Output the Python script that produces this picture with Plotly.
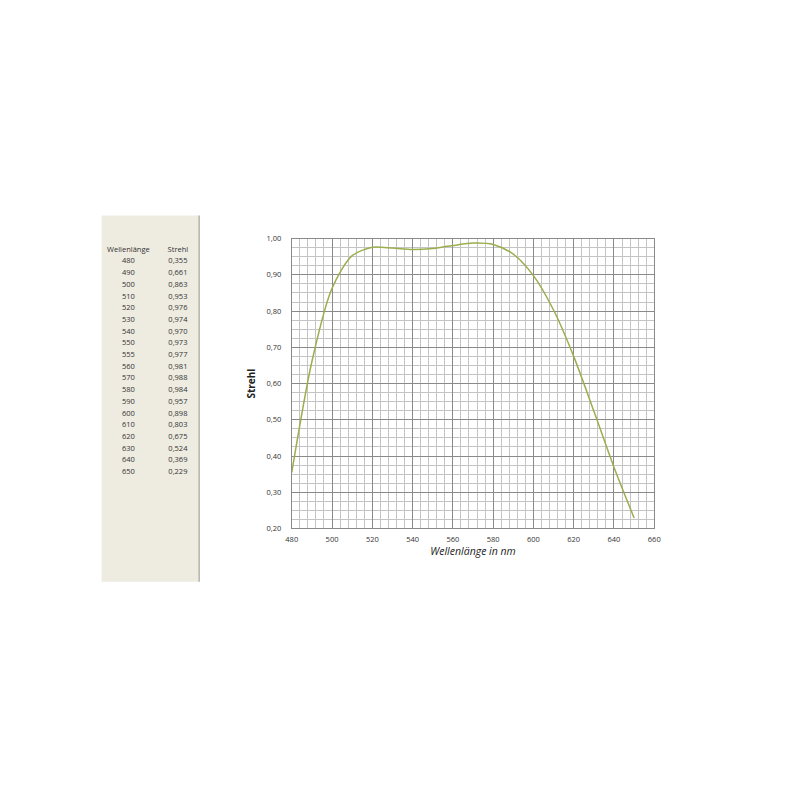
import plotly.graph_objects as go

# Strehl-Werte je Wellenlaenge
wellenlaenge = [480, 490, 500, 510, 520, 530, 540, 550, 555, 560, 570, 580, 590, 600, 610, 620, 630, 640, 650]
strehl = [0.355, 0.661, 0.863, 0.953, 0.976, 0.974, 0.970, 0.973, 0.977, 0.981,
          0.988, 0.984, 0.957, 0.898, 0.803, 0.675, 0.524, 0.369, 0.229]
strehl_text = ["0,355", "0,661", "0,863", "0,953", "0,976", "0,974", "0,970", "0,973", "0,977", "0,981",
               "0,988", "0,984", "0,957", "0,898", "0,803", "0,675", "0,524", "0,369", "0,229"]

W = 800.0

fig = go.Figure()

# table on the left (beige panel)
fig.add_shape(type="rect", xref="paper", yref="paper", x0=89 / W, x1=188 / W, y0=1 - 576 / W, y1=1 - 205 / W,
              fillcolor="#eeebe1", line_width=0, layer="below")
fig.add_shape(type="line", xref="paper", yref="paper", x0=188 / W, x1=188 / W, y0=1 - 576 / W, y1=1 - 205 / W,
              line=dict(color="#b8b4a8", width=1.5))

fig.add_trace(go.Table(
    domain=dict(x=[91 / W, 192 / W], y=[1 - 520 / W, 1 - 228 / W]),
    columnwidth=[1, 1],
    header=dict(values=["Wellenlänge", "Strehl"], fill_color="rgba(0,0,0,0)", line_color="rgba(0,0,0,0)",
                font=dict(family="Open Sans", size=7.5, color="#333"), align="center", height=11.7),
    cells=dict(values=[wellenlaenge, strehl_text], fill_color="rgba(0,0,0,0)", line_color="rgba(0,0,0,0)",
               font=dict(family="Open Sans", size=7.5, color="#333"), align="center", height=11.7),
))

fig.add_trace(go.Scatter(x=wellenlaenge, y=strehl, mode="lines",
                         line=dict(color="#9aae4e", width=1.5, shape="spline", smoothing=0.8),
                         showlegend=False))

ax_font = dict(family="Open Sans", size=7.5, color="#333")
fig.update_xaxes(domain=[282 / W, 650 / W], range=[480, 660], dtick=20, tick0=480,
                 showgrid=True, gridcolor="#8a8a8a", gridwidth=1,
                 minor=dict(dtick=4, tick0=480, showgrid=True, gridcolor="#c4c4c4", gridwidth=1),
                 showline=True, linecolor="#8a8a8a", mirror=True, ticks="", zeroline=False,
                 tickfont=ax_font, ticklabelstandoff=4,
                 title=dict(text="<i>Wellenlänge in nm</i>", font=dict(family="Open Sans", size=10.5, color="#222"),
                            standoff=2))
fig.update_yaxes(domain=[1 - 522 / W, 1 - 228.5 / W], range=[0.2, 1.0], dtick=0.1, tick0=0.2, tickformat=".2f",
                 showgrid=True, gridcolor="#8a8a8a", gridwidth=1,
                 minor=dict(dtick=0.025, tick0=0.2, showgrid=True, gridcolor="#c4c4c4", gridwidth=1),
                 showline=True, linecolor="#8a8a8a", mirror=True, ticks="", zeroline=False,
                 tickfont=ax_font, ticklabelstandoff=8,
                 title=dict(text="<b>Strehl</b>", font=dict(family="Open Sans", size=10, color="#222"), standoff=8))

fig.update_layout(width=800, height=800, margin=dict(l=0, r=0, t=0, b=0),
                  paper_bgcolor="white", plot_bgcolor="white", separators=",.", showlegend=False)

fig.write_html("out.html")
